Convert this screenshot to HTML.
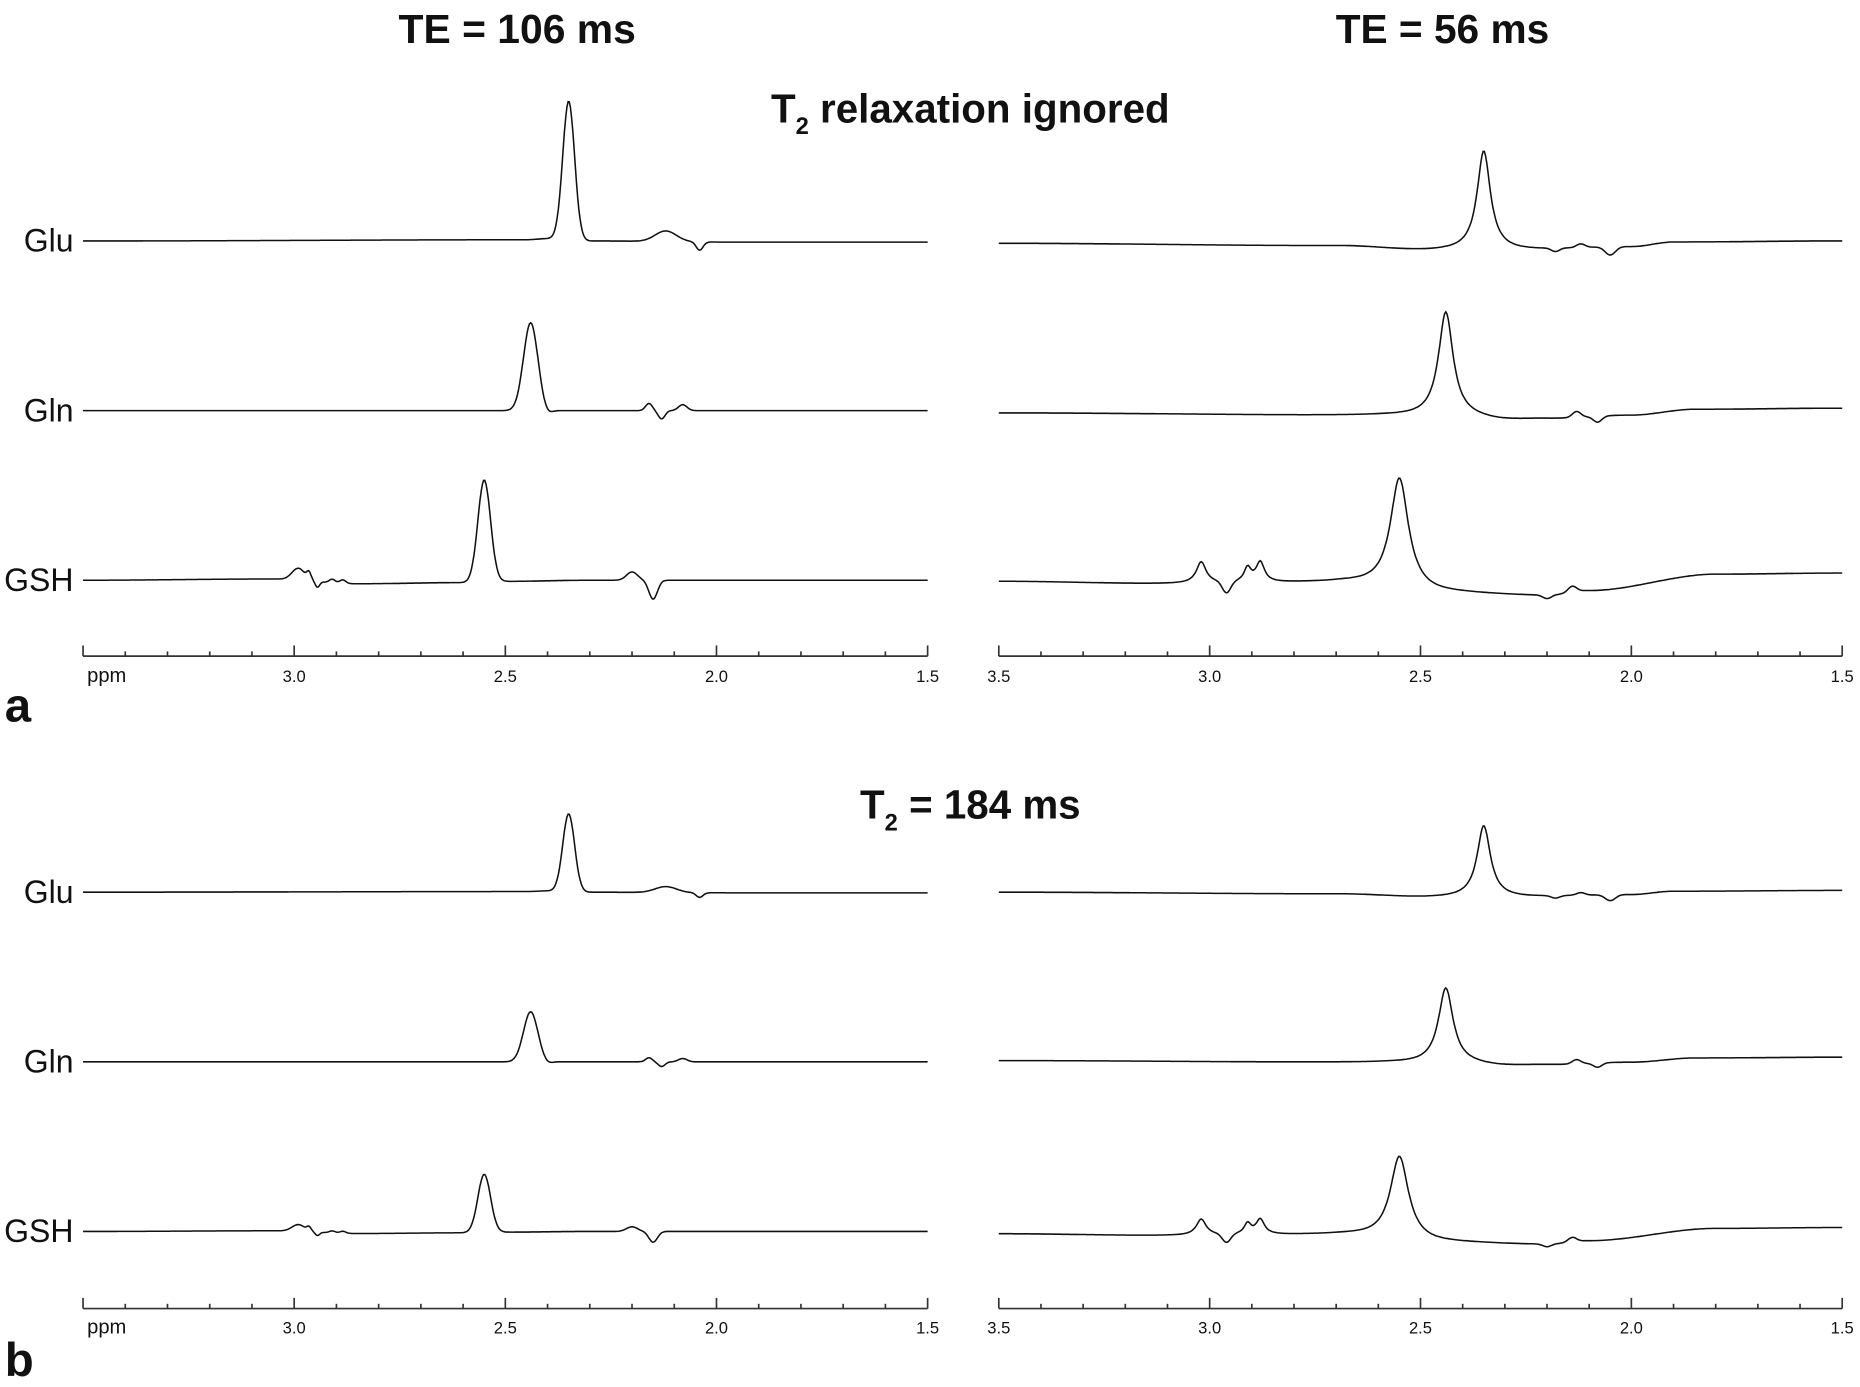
<!DOCTYPE html>
<html><head><meta charset="utf-8"><style>
html,body{margin:0;padding:0;background:#fff}
svg{display:block}
text{font-family:"Liberation Sans",sans-serif;fill:#111}
</style></head><body>
<svg id="s" width="1860" height="1387" viewBox="0 0 1568 1169" xmlns="http://www.w3.org/2000/svg">
<g font-weight="bold" font-size="34" text-anchor="middle">
<text x="436" y="36" textLength="200" lengthAdjust="spacingAndGlyphs">TE = 106 ms</text>
<text x="1216" y="36" textLength="180" lengthAdjust="spacingAndGlyphs">TE = 56 ms</text>
<text x="818" y="103">T<tspan font-size="20" dy="10">2</tspan><tspan dy="-10"> relaxation ignored</tspan></text>
<text x="818" y="690">T<tspan font-size="20" dy="10">2</tspan><tspan dy="-10"> = 184 ms</tspan></text>
</g>
<g font-size="27" text-anchor="end">
<text x="62" y="212">Glu</text><text x="62" y="355">Gln</text><text x="62" y="498">GSH</text>
<text x="62" y="761">Glu</text><text x="62" y="904">Gln</text><text x="62" y="1047">GSH</text>
</g>
<g font-weight="bold" font-size="40"><text x="4" y="608">a</text><text x="4" y="1160">b</text></g>
<g id="axes" stroke="#333" stroke-width="1.4" fill="none"></g>
<g id="lbl" font-size="14" text-anchor="middle"></g>
<g id="curves" stroke="#111" stroke-width="1.3" fill="none"></g>
</svg>
<script>
var NS="http://www.w3.org/2000/svg";
function el(p,t,a,txt){var e=document.createElementNS(NS,t);for(var k in a)e.setAttribute(k,a[k]);if(txt)e.textContent=txt;document.getElementById(p).appendChild(e);}
var L={x0:70,x1:782},R={x0:842,x1:1553};
function X(P,p){return P.x0+(3.5-p)*(P.x1-P.x0)/2;}
[[553,575],[1103,1124]].forEach(function(a){
 [L,R].forEach(function(P,pi){
  el("axes","line",{x1:P.x0,y1:a[0],x2:P.x1,y2:a[0]});
  for(var i=0;i<=20;i++){var p=3.5-i*0.1,x=X(P,p),maj=(i%5==0);
   el("axes","line",{x1:x,y1:a[0],x2:x,y2:a[0]-(maj?9:4)});
   if(maj){var t=p.toFixed(1);if(pi==0&&i==0){el("lbl","text",{x:x+20,y:a[1],"font-size":"17"},"ppm");}else el("lbl","text",{x:x,y:a[1]},t);}
  }
 });
});
function curve(P,base,bl,comps,sc){
 var d="",n=700;
 for(var i=0;i<=n;i++){var p=3.5-2*i/n,off=0;
  for(var j=0;j<bl.length-1;j++){if(p<=bl[j][0]&&p>=bl[j+1][0]){var f=(bl[j][0]-p)/(bl[j][0]-bl[j+1][0]);f=f*f*(3-2*f);off=bl[j][1]+f*(bl[j+1][1]-bl[j][1]);}}
  comps.forEach(function(c){var u=(p-c[1])/c[3];off+=c[0]=="g"?c[2]*Math.exp(-0.5*u*u):c[2]/(1+u*u);});
  d+=(i?"L":"M")+X(P,p).toFixed(1)+","+(base-off*sc).toFixed(1);}
 el("curves","path",{d:d});
}
var rows=[
 [L,[203,752],[0.56],[[3.5,0],[2.45,1],[2.4,2],[2.3,0],[1.95,-1],[1.5,-1]],[["g",2.35,117,0.014],["g",2.12,9,0.025],["g",2.04,-7,0.008]]],
 [L,[346,895],[0.57],[[3.5,0],[1.5,0]],[["g",2.44,74,0.017],["g",2.40,-3,0.01],["g",2.16,6,0.008],["g",2.13,-7,0.008],["g",2.08,5,0.01]]],
 [L,[489,1038],[0.57],[[3.5,0],[3.05,1],[2.85,-3],[2.6,-2],[2.5,-1],[2.3,0],[1.5,0]],[["g",2.99,10,0.015],["g",2.965,6,0.005],["g",2.945,-5,0.005],["g",2.91,3,0.007],["g",2.885,3,0.007],["g",2.55,86,0.015],["g",2.2,7,0.013],["g",2.15,-16,0.01]]],
 [R,[205,752],[0.72],[[3.5,0],[2.7,-2],[2.47,-6],[2.3,-6],[2.0,-3],[1.9,1],[1.5,2]],[["l",2.35,84,0.019],["g",2.18,-3,0.01],["g",2.12,3,0.01],["g",2.05,-7,0.012]]],
 [R,[348,894],[0.72],[[3.5,0],[2.6,-2],[2.4,-4],[2.3,-6],[2.2,-5],[2.0,-2],[1.85,3],[1.5,4]],[["l",2.44,89,0.021],["g",2.13,5,0.01],["g",2.08,-5,0.01]]],
 [R,[490,1040],[0.75],[[3.5,0],[3.1,-2],[2.7,-1],[2.45,-10],[2.2,-12],[2.1,-8],[1.8,6],[1.5,7]],[["l",2.55,94,0.026],["l",3.02,18,0.014],["g",2.96,-10,0.01],["l",2.91,12,0.01],["l",2.88,17,0.012],["g",2.2,-3,0.01],["g",2.14,5,0.01]]]
];
rows.forEach(function(r){curve(r[0],r[1][0],r[3],r[4],1);curve(r[0],r[1][1],r[3],r[4],r[2][0]);});
</script>
</body></html>
